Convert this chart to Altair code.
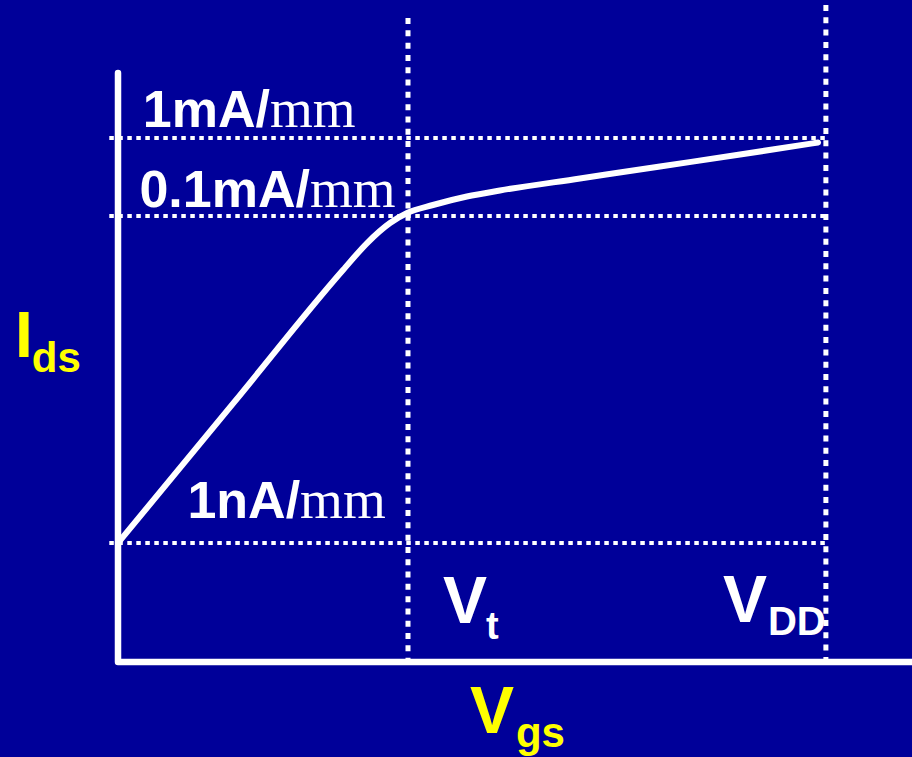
import altair as alt
import pandas as pd

# Transfer characteristic: Vgs in units of Vt, Ids as log10 of current density
vgs = [0.0, 0.4, 0.776, 0.859, 0.938, 0.997, 1.086, 1.203, 1.317, 1.593, 1.869, 2.145, 2.414]
log_ids = [-9.0, -6.85, -4.826, -4.413, -4.107, -3.962, -3.859, -3.750, -3.673,
           -3.519, -3.365, -3.212, -3.058]

# Reference current levels (log10): 1mA, 0.1mA, 1nA
level_log = [-3, -4, -9]
level_value_text = ["1mA/", "0.1mA/", "1nA/"]
level_unit_text = ["mm", "mm", "mm"]
level_label_x = [0.524, 0.662, 0.628]
level_label_y = [-2.859, -3.885, -8.618]

# Gate voltages marked on the x axis
v_marks = [1.0, 2.441]          # Vt, VDD
v_mark_top = [-1.462, -1.295]

# Axis extents
axis_x = [0.0, 0.0, 3.0]
axis_y = [-2.167, -10.82, -10.82]
level_line_start = -0.03
level_line_end = 2.441

# Symbol labels: main letter + subscript
sym_main = ["I", "V", "V", "V"]
sym_sub = ["ds", "gs", "t", "DD"]
sym_color = ["#FFFF00", "#FFFF00", "#FFFFFF", "#FFFFFF"]
sym_main_x = [-0.355, 1.214, 1.121, 2.086]
sym_main_y = [-6.156, -11.905, -10.223, -10.208]
sym_sub_x = [-0.297, 1.372, 1.269, 2.241]
sym_sub_y = [-6.385, -12.119, -10.468, -10.407]
sym_main_size = [64, 66, 66, 66]
sym_sub_size = [42, 42, 38, 40]

BG = "#000099"
W, H = 912, 757

xs = alt.Scale(domain=[-118 / 290, 794 / 290], nice=False, zero=False)
ys = alt.Scale(domain=[-11, -9, -4, -3], range=[673.8, 543, 216, 138],
               nice=False, zero=False)

curve_df = pd.DataFrame({"i": range(len(vgs)), "vgs": vgs, "ids": log_ids})
axis_df = pd.DataFrame({"i": range(3), "vgs": axis_x, "ids": axis_y})
level_df = pd.DataFrame({
    "ids": level_log,
    "x0": [level_line_start] * 3,
    "x1": [level_line_end] * 3,
    "value": level_value_text,
    "unit": level_unit_text,
    "lx": level_label_x,
    "ly": level_label_y,
})
vmark_df = pd.DataFrame({
    "vgs": v_marks,
    "top": v_mark_top,
    "floor": [axis_y[1]] * 2,
})
sym_df = pd.DataFrame({
    "main": sym_main, "sub": sym_sub, "color": sym_color,
    "mx": sym_main_x, "my": sym_main_y,
    "sx": sym_sub_x, "sy": sym_sub_y,
    "msize": sym_main_size, "ssize": sym_sub_size,
})

X = lambda f: alt.X(f, type="quantitative", scale=xs, axis=None)
Y = lambda f: alt.Y(f, type="quantitative", scale=ys, axis=None)

h_dots = alt.Chart(level_df).mark_rule(
    color="white", strokeWidth=4, strokeDash=[4.5, 4.5]
).encode(y=Y("ids"), x=X("x0"), x2="x1")

v_dots = alt.Chart(vmark_df).mark_rule(
    color="white", strokeWidth=5, strokeDash=[6, 6.3]
).encode(x=X("vgs"), y=Y("top"), y2="floor")

axes = alt.Chart(axis_df).mark_line(
    color="white", strokeWidth=6.5, strokeJoin="round", strokeCap="round"
).encode(x=X("vgs"), y=Y("ids"), order="i:Q")

curve = alt.Chart(curve_df).mark_line(
    color="white", strokeWidth=6, strokeCap="round", interpolate="monotone"
).encode(x=X("vgs"), y=Y("ids"), order="i:Q")

level_value = alt.Chart(level_df).mark_text(
    align="right", baseline="alphabetic", font="Liberation Sans",
    fontWeight="bold", fontSize=52, color="white"
).encode(x=X("lx"), y=Y("ly"), text="value:N")

level_unit = alt.Chart(level_df).mark_text(
    align="left", baseline="alphabetic", font="Liberation Serif",
    fontSize=55, color="white"
).encode(x=X("lx"), y=Y("ly"), text="unit:N")

sym_big = alt.Chart(sym_df).mark_text(
    align="left", baseline="alphabetic", font="Liberation Sans", fontWeight="bold"
).encode(
    x=X("mx"), y=Y("my"), text="main:N",
    color=alt.Color("color:N", scale=None),
    size=alt.Size("msize:Q", scale=None),
)

sym_small = alt.Chart(sym_df).mark_text(
    align="left", baseline="alphabetic", font="Liberation Sans", fontWeight="bold"
).encode(
    x=X("sx"), y=Y("sy"), text="sub:N",
    color=alt.Color("color:N", scale=None),
    size=alt.Size("ssize:Q", scale=None),
)

chart = alt.layer(
    h_dots, v_dots, axes, curve, level_value, level_unit, sym_big, sym_small
).properties(
    width=W, height=H, padding=0, autosize=alt.AutoSizeParams(type="none"),
    background=BG,
).configure_view(stroke=None)

chart.save("out.html", embed_options={"renderer": "svg", "actions": False})
